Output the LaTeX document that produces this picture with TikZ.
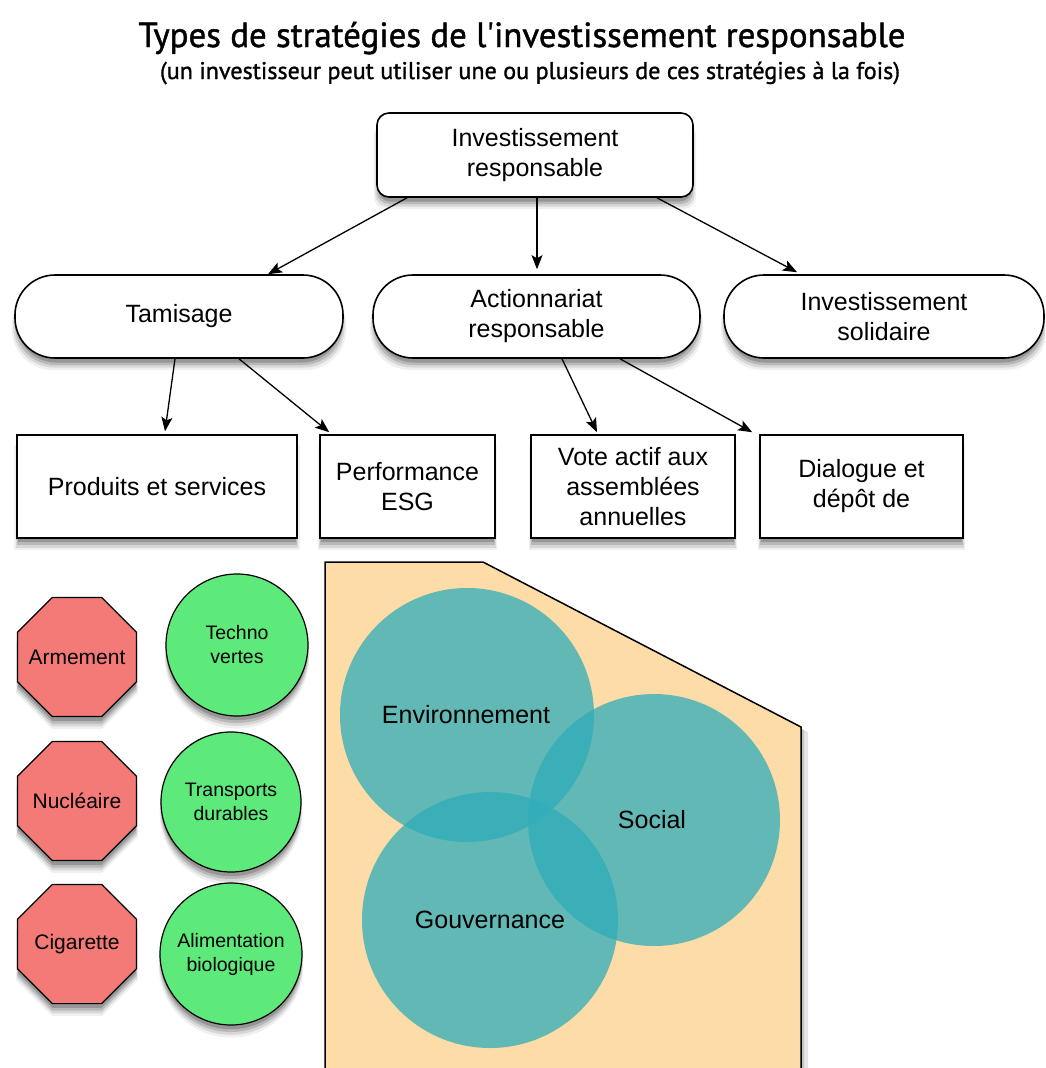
\documentclass[tikz,border=0pt]{standalone}
\usepackage{fontspec}
\setmainfont{Liberation Sans}
\newfontfamily\titlefont{PT Sans}[FakeBold=1.2]
\usepackage{graphicx}
\usetikzlibrary{shapes.geometric,shadows,arrows.meta,calc}
\definecolor{salmonc}{RGB}{243,122,118}
\definecolor{greenc}{RGB}{94,234,122}
\definecolor{beigec}{RGB}{253,220,168}
\definecolor{vennc}{RGB}{47,173,186}
\tikzset{
  shad/.style={
    general shadow={shadow xshift=0pt, shadow yshift=-11pt, shadow scale=1.02, fill=black, opacity=0.06},
    general shadow={shadow xshift=0pt, shadow yshift=-9pt, shadow scale=1.01, fill=black, opacity=0.10},
    general shadow={shadow xshift=0pt, shadow yshift=-7pt, shadow scale=1.0, fill=black, opacity=0.14},
    general shadow={shadow xshift=0pt, shadow yshift=-5pt, shadow scale=0.99, fill=black, opacity=0.18}},
  box/.style={draw=black, line width=1.6pt, fill=white, align=center, inner sep=0pt,
    font=\fontsize{25}{30}\selectfont, shad},
  rbox/.style={box, rectangle, minimum height=103pt},
  pill/.style={box, rectangle, rounded corners=40pt, minimum height=83pt},
  octo/.style={regular polygon, regular polygon sides=8, minimum size=129pt, inner sep=0pt,
    draw=black, line width=1.2pt, fill=salmonc,
    font=\fontsize{21}{24}\selectfont, shad},
  gcirc/.style={circle, inner sep=0pt, draw=black, line width=1.2pt, fill=greenc, align=center,
    font=\fontsize{19.5}{24}\selectfont, shad},
  venn/.style={circle, inner sep=0pt, fill=vennc, fill opacity=0.75, draw=none},
  venntext/.style={font=\fontsize{25}{30}\selectfont},
  arr/.style={-{Stealth[length=14pt,width=11pt,inset=3pt]}, line width=1.3pt},
}
\begin{document}
\begin{tikzpicture}[x=1pt,y=-1pt]
\useasboundingbox (0,0) rectangle (1045,1068);
\fill[white] (0,0) rectangle (1045,1068);
\clip (0,0) rectangle (1045,1068);

% titles
\node[anchor=base, inner sep=0pt] (title) at (522,47)
  {\resizebox{767pt}{!}{\titlefont\fontsize{32}{38}\selectfont Types de stratégies de l\textquotesingle investissement responsable}};
\node[anchor=base, inner sep=0pt] (subtitle) at (530,79)
  {\resizebox{740pt}{!}{\titlefont\fontsize{20}{24}\selectfont (un investisseur peut utiliser une ou plusieurs de ces stratégies à la fois)}};

% top
\node[box, rectangle, rounded corners=12pt, minimum width=316pt, minimum height=84pt] (top) at (535,155)
  {Investissement\\responsable};

% second row
\node[pill, minimum width=328pt] (tam) at (179,316.5) {Tamisage};
\node[pill, minimum width=327pt] (act) at (536.5,316.5) {Actionnariat\\responsable};
\node[pill, minimum width=320pt] (sol) at (884,316.5) {Investissement\\solidaire};

% third row
\node[rbox, minimum width=280pt] (prod) at (157,486.5) {Produits et services};
\node[rbox, minimum width=175pt] (perf) at (407.5,486.5) {Performance\\ESG};
\node[rbox, minimum width=204pt] (vote) at (633,486.5) {Vote actif aux\\assemblées\\annuelles};
\node[rbox, minimum width=203pt] (dial) at (861.5,486.5) {Dialogue et\\dépôt de};

% arrows
\draw[arr] ([xshift=-128pt]top.south) -- ([xshift=89pt]tam.north);
\draw[arr] ([xshift=2pt]top.south) -- ([xshift=0.5pt,yshift=5pt]act.north);
\draw[arr] ([xshift=122pt]top.south) -- ([xshift=-87pt,yshift=2pt]sol.north);
\draw[arr] ([xshift=-4pt]tam.south) -- ([xshift=8pt,yshift=3pt]prod.north);
\draw[arr] ([xshift=60pt]tam.south) -- ([xshift=10pt,yshift=2pt]perf.north west);
\draw[arr] ([xshift=25.5pt]act.south) -- ([xshift=-36pt,yshift=2pt]vote.north);
\draw[arr] ([xshift=83.5pt]act.south) -- ([xshift=-7pt,yshift=2pt]dial.north west);

% octagons
\node[octo] (arm) at (77,657) {\makebox[0pt]{Armement}};
\node[octo] (nuc) at (77,801) {\makebox[0pt]{Nucléaire}};
\node[octo] (cig) at (77,944) {\makebox[0pt]{Cigarette}};

% green circles
\node[gcirc, minimum size=142pt] (tech) at (237,645) {Techno\\vertes};
\node[gcirc, minimum size=140pt] (trans) at (231,802) {Transports\\durables};
\node[gcirc, minimum size=142pt] (alim) at (231,954) {Alimentation\\biologique};

% ESG area
\fill[black, opacity=0.10] (331,567) -- (489,567) -- (808,732) -- (808,1090) -- (331,1090) -- cycle;
\fill[black, opacity=0.14] (328,565) -- (486,565) -- (804,730) -- (804,1090) -- (328,1090) -- cycle;
\draw[fill=beigec, line width=1.5pt]
  (325,562) -- (483,562) -- (801,727) -- (801,1090) -- (325,1090) -- cycle;

\node[venn, minimum size=254pt] (env) at (467,715) {};
\node[venn, minimum size=252pt] (soc) at (654,820) {};
\node[venn, minimum size=256pt] (gov) at (490,920) {};
\node[venntext] (envt) at (466,715) {Environnement};
\node[venntext] (soct) at (652,820) {Social};
\node[venntext] (govt) at (490,920) {Gouvernance};
\end{tikzpicture}
\end{document}
